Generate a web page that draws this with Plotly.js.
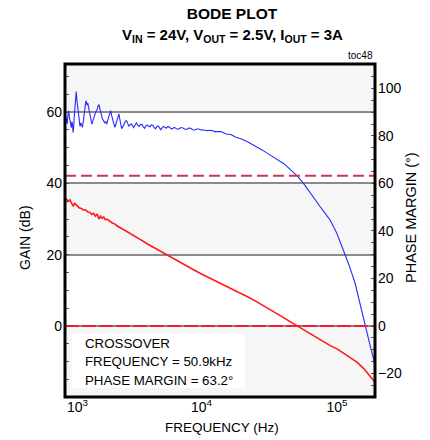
<!DOCTYPE html>
<html>
<head>
<meta charset="utf-8">
<script src="https://cdn.plot.ly/plotly-3.0.1.min.js"></script>
<style>html,body{margin:0;padding:0;background:#fff;}#chart{width:430px;height:440px;}</style>
</head>
<body>
<div id="chart"></div>
<script>
// ---- data ----
const freqGain = [1000,1040,1070,1100,1130,1160,1200,1250,1300,1350,1400,1450,1500,1550,1600,1650,1700,1750,1800,1850,1900,1950,2000,2100,2200,2300,2400,2600,2800,3000,3300,3600,4000,4500,5000,5600,6300,7100,8000,9000,10000,11200,12600,14100,15800,17800,20000,22400,25100,28200,31600,35500,39800,44700,50900,56200,63100,70800,79400,89100,100000,112000,126000,141000,158000,178000,195000];
const gainDb = [35.8,35.0,35.4,34.6,33.6,34.4,33.8,33.2,33.0,32.5,32.6,32.0,31.9,31.3,31.6,30.8,31.4,30.0,30.8,30.2,30.6,29.8,30.0,29.4,28.9,28.6,28.0,27.3,26.6,26.0,25.0,24.1,23.0,21.9,20.8,19.7,18.6,17.5,16.5,15.5,14.6,13.7,12.8,11.9,11.0,10.0,9.0,8.0,7.0,5.9,4.8,3.6,2.5,1.3,0.0,-1.1,-2.2,-3.3,-4.4,-5.5,-6.4,-7.6,-8.9,-10.2,-12.0,-14.5,-16.2];
const freqPhase = [1000,1012,1023,1035,1047,1060,1072,1084,1096,1107,1117,1128,1138,1151,1164,1178,1191,1205,1219,1236,1253,1270,1288,1306,1324,1342,1361,1382,1403,1418,1432,1449,1466,1486,1507,1529,1552,1574,1596,1618,1641,1669,1698,1726,1754,1778,1803,1830,1858,1893,1928,1964,2000,2032,2065,2101,2138,2175,2213,2254,2296,2336,2377,2418,2460,2489,2518,2547,2576,2634,2692,2745,2799,2858,2917,2982,3048,3105,3162,3236,3311,3388,3467,3548,3631,3715,3802,3890,3981,4074,4169,4266,4365,4467,4571,4677,4786,4898,5012,5129,5248,5370,5495,5623,5754,5888,6026,6166,6310,6531,6761,6998,7244,7499,7762,8035,8318,8610,8913,9226,9550,9886,10230,10960,11750,12590,13930,15140,16480,17780,19500,21880,24430,28180,32360,36310,40550,45710,50800,56230,63680,69180,75340,82220,89130,99770,111700,122900,135900,147900,161000,175100,195000];
const phaseDeg = [88,86.5,85,89,90.6,88,86,84,83.5,86,85,81.5,83,88,92,96,98.7,95,92,89,87.2,84,85.5,84.5,83.6,86,89,92.5,94.8,94,93,93.8,92,90,88,86,85,86,87.5,88.5,89.3,90.5,91,92.5,93.2,91.5,90,88.5,87.2,86.5,85.5,86,85,86.5,88,89.5,90.6,88.5,86.5,84.5,83.6,85,86.5,88,89.3,87.5,86,84.5,83,84,85.5,86.2,86.4,85,84,84.8,85,84.2,83.5,84.6,85.5,84.5,84,84.9,84.8,83.8,83.2,84.2,84.6,84.0,83.8,84.6,84.5,83.6,83.0,83.9,84.2,83.4,82.6,83.5,84.0,83.6,83.2,83.9,83.8,83.3,82.9,83.2,83.6,83.0,82.8,83.4,83.4,82.9,82.7,83.3,83.2,82.6,82.5,82.9,82.9,82.5,82.6,82.2,82.4,81.8,81.8,80.8,80.6,79.5,78.8,77.5,76.0,74.0,71.8,70.0,68.3,65.6,63.2,60.2,55.7,52.8,50.1,47.2,44.5,38.9,31.9,25.5,18.0,9.0,0,-8.0,-18.5];
const gainTicks = [-20,0,20,40,60];
const phaseTicks = [-20,0,20,40,60,80,100];
const decades = [1e3,1e4,1e5];
const decadeLabels = ['10<sup>3</sup>','10<sup>4</sup>','10<sup>5</sup>'];
const shadedBands = [[60,73.5],[20,40],[-19.9,0]];
const crossoverHz = 50900;
const phaseMarginDeg = 63.2;
const titleText = 'BODE PLOT';
const subtitleText = 'V<sub>IN</sub> = 24V, V<sub>OUT</sub> = 2.5V, I<sub>OUT</sub> = 3A';
const noteLines = ['CROSSOVER','FREQUENCY = 50.9kHz','PHASE MARGIN = 63.2°'];

// ---- layout helpers ----
const FONT = '"Liberation Sans", Arial, sans-serif';
const L=65, R=375, T=64, B=397;
const px2X = p => (p-L)/(R-L);
const px2Y = p => (B-p)/(B-T);
const X_RANGE=[2.993,5.28];

const shapes = [];
shadedBands.forEach(b => shapes.push({type:'rect',xref:'paper',yref:'y',x0:0,x1:1,y0:b[0],y1:b[1],fillcolor:'#f6f6f6',line:{width:0},layer:'below'}));
decades.forEach(d => {
  for (let m=1;m<=9;m++){
    const f=d*m; const lf=Math.log10(f);
    if (lf<=X_RANGE[0]+0.005 || lf>=X_RANGE[1]) continue;
    shapes.push({type:'line',xref:'x',yref:'paper',x0:lf,x1:lf,y0:0,y1:1,layer:'below',
      line:{color: m===1 ? '#8c8c8c' : '#c4c4c4', width: m===1 ? 1.2 : 1.3}});
  }
});
// note box
shapes.push({type:'rect',xref:'paper',yref:'paper',x0:px2X(72),x1:px2X(245),y0:px2Y(388),y1:px2Y(333),fillcolor:'#ffffff',line:{width:0},layer:'above'});
// zero line red dashed over the dark grid line
shapes.push({type:'line',xref:'paper',yref:'y',x0:0,x1:1,y0:0,y1:0,layer:'above',line:{color:'#ee2030',width:2,dash:'14px,3px'}});
// crossover lines
shapes.push({type:'line',xref:'paper',yref:'y2',x0:0,x1:1,y0:phaseMarginDeg,y1:phaseMarginDeg,layer:'above',line:{color:'#cc3a4a',width:2,dash:'11px,5px'}});
shapes.push({type:'line',xref:'x',yref:'paper',x0:Math.log10(crossoverHz),x1:Math.log10(crossoverHz),y0:0,y1:1,layer:'above',line:{color:'#d03848',width:1.4,dash:'62px,4px'}});
// frame
shapes.push({type:'rect',xref:'paper',yref:'paper',x0:0,x1:1,y0:0,y1:1,line:{color:'#000',width:3},layer:'above'});

const annotations = [];
annotations.push({xref:'paper',yref:'paper',x:px2X(232),y:px2Y(35),xanchor:'center',yanchor:'middle',showarrow:false,text:'<b>'+subtitleText+'</b>',font:{family:FONT,size:15,color:'#000'}});
annotations.push({xref:'paper',yref:'paper',x:0,y:px2Y(406),xanchor:'left',yanchor:'middle',showarrow:false,text:decadeLabels[0],font:{family:FONT,size:14,color:'#000'}});
annotations.push({xref:'paper',yref:'paper',x:1,y:px2Y(55),xanchor:'right',yanchor:'middle',showarrow:false,text:'toc48',font:{family:FONT,size:10,color:'#000'}});
annotations.push({xref:'paper',yref:'paper',x:px2X(25),y:px2Y(238),xanchor:'center',yanchor:'middle',textangle:-90,showarrow:false,text:'GAIN (dB)',font:{family:FONT,size:14,color:'#000'}});
annotations.push({xref:'paper',yref:'paper',x:px2X(411),y:px2Y(218),xanchor:'center',yanchor:'middle',textangle:-90,showarrow:false,text:'PHASE MARGIN (°)',font:{family:FONT,size:14.5,color:'#000'}});
annotations.push({xref:'paper',yref:'paper',x:px2X(222),y:px2Y(427),xanchor:'center',yanchor:'middle',showarrow:false,text:'FREQUENCY (Hz)',font:{family:FONT,size:13.5,color:'#000'}});
const noteY=[343,361.5,380];
noteLines.forEach((t,i)=>annotations.push({xref:'paper',yref:'paper',x:px2X(83),y:px2Y(noteY[i]),xanchor:'left',yanchor:'middle',showarrow:false,text:t,font:{family:FONT,size:13.3,color:'#000'}}));

const traces = [
  {x:freqGain,y:gainDb,type:'scatter',mode:'lines',name:'GAIN',line:{color:'#ff1a1a',width:1.6},xaxis:'x',yaxis:'y',cliponaxis:true},
  {x:freqPhase,y:phaseDeg,type:'scatter',mode:'lines',name:'PHASE',line:{color:'#2a2aff',width:1.1},xaxis:'x',yaxis:'y2',cliponaxis:true}
];

const layout = {
  width:430,height:440,
  margin:{l:L,r:430-R,t:T,b:440-B,pad:0},
  paper_bgcolor:'#fff',plot_bgcolor:'#fff',
  showlegend:false,
  font:{family:FONT,size:14,color:'#000'},
  title:{text:'<b>'+titleText+'</b>',font:{family:FONT,size:15.5,color:'#000'},xref:'container',yref:'container',x:232/430,xanchor:'center',y:1-14/440,yanchor:'middle'},
  xaxis:{type:'log',range:X_RANGE,tickvals:decades.slice(1),ticktext:decadeLabels.slice(1),showgrid:false,zeroline:false,showline:false,ticks:'',
    tickfont:{family:FONT,size:14,color:'#000'},fixedrange:true},
  yaxis:{range:[shadedBands[2][0],shadedBands[0][1]],tickvals:gainTicks,showgrid:true,gridcolor:'#8a8a8a',gridwidth:2,zeroline:false,showline:false,
    ticks:'inside',ticklen:4,tickcolor:'#555',minor:{dtick:5,ticks:'inside',ticklen:4,tickcolor:'#555',showgrid:false},
    tickfont:{family:FONT,size:14,color:'#000'},ticklabelstandoff:2},
  yaxis2:{overlaying:'y',side:'right',range:[shadedBands[2][0]*1.5,shadedBands[0][1]*1.5],tickvals:phaseTicks,showgrid:false,zeroline:false,showline:false,
    ticks:'inside',ticklen:4,tickcolor:'#555',minor:{dtick:5,ticks:'inside',ticklen:4,tickcolor:'#555',showgrid:false},
    tickfont:{family:FONT,size:14,color:'#000'},ticklabelstandoff:2},
  shapes:shapes,annotations:annotations
};
Plotly.newPlot('chart',traces,layout,{staticPlot:true,displayModeBar:false});
</script>
</body>
</html>
